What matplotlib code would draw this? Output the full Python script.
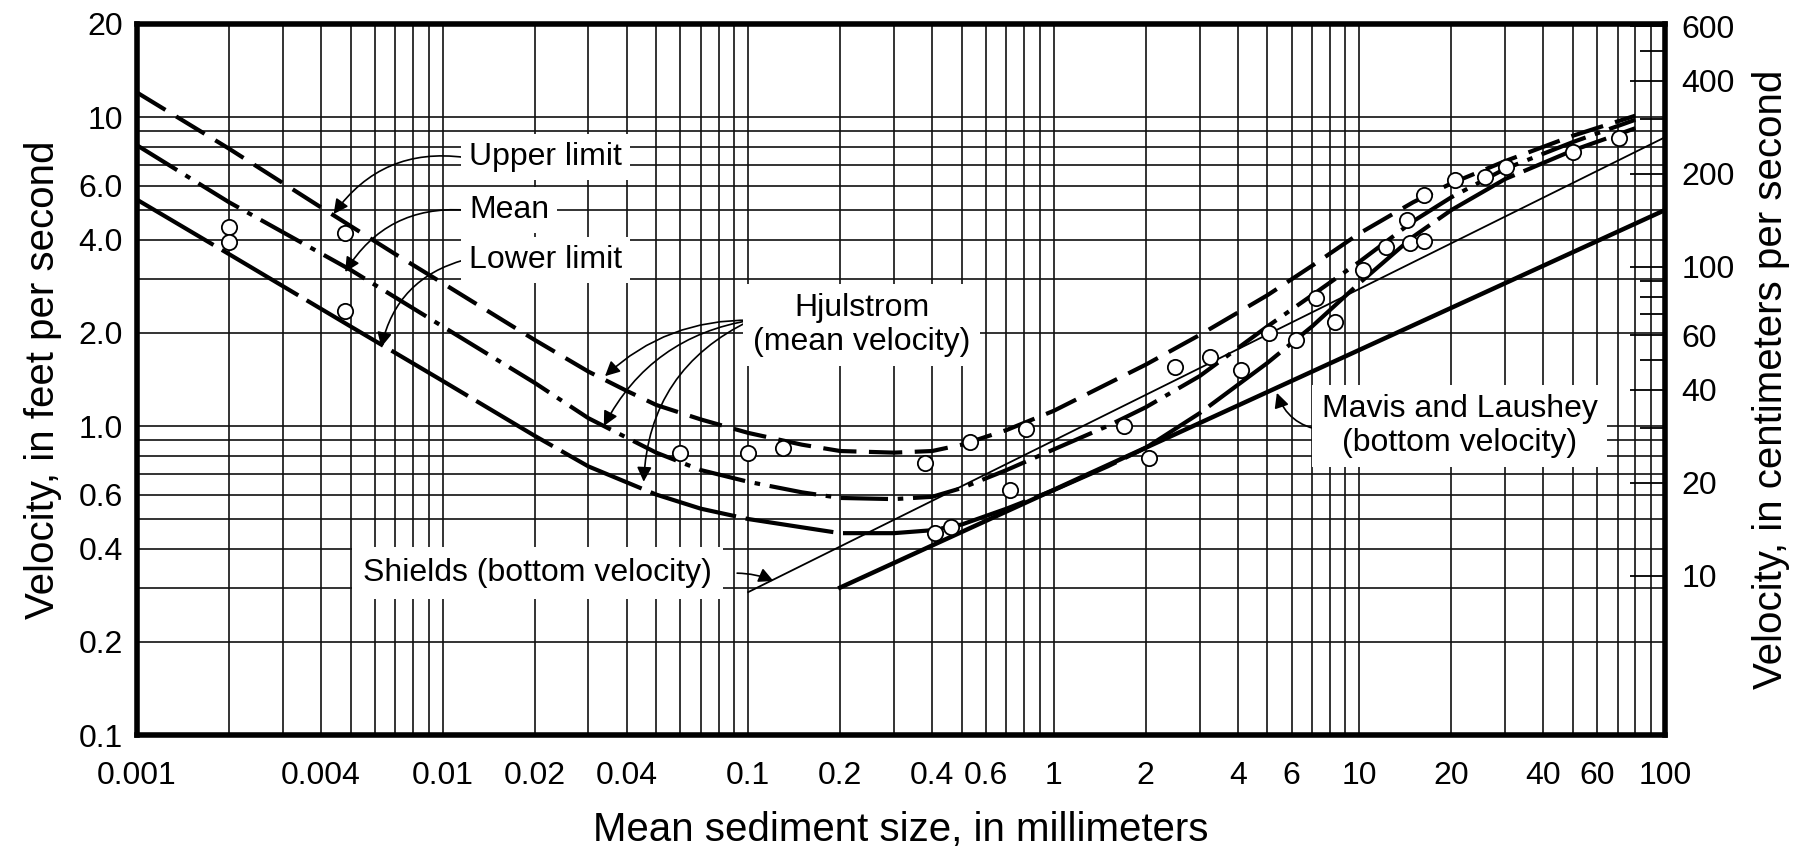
import matplotlib
matplotlib.use("Agg")
import matplotlib.pyplot as plt
from matplotlib import font_manager
from matplotlib.ticker import FixedLocator, FixedFormatter, NullFormatter

# ---- axis ticks -------------------------------------------------------------
size_ticks = [0.001, 0.004, 0.01, 0.02, 0.04, 0.1, 0.2, 0.4, 0.6, 1, 2, 4, 6,
              10, 20, 40, 60, 100]
size_tick_labels = ["0.001", "0.004", "0.01", "0.02", "0.04", "0.1", "0.2",
                    "0.4", "0.6", "1", "2", "4", "6", "10", "20", "40", "60",
                    "100"]
vel_ticks = [0.1, 0.2, 0.4, 0.6, 1, 2, 4, 6, 10, 20]
vel_tick_labels = ["0.1", "0.2", "0.4", "0.6", "1.0", "2.0", "4.0", "6.0",
                   "10", "20"]
cms_ticks = [10, 20, 40, 60, 100, 200, 400, 600]
cms_tick_labels = ["10", "20", "40", "60", "100", "200", "400", "600"]
cms_minor = [30, 50, 70, 80, 90, 300, 500]

# ---- Hjulstrom curves (mean velocity, ft/s) ---------------------------------
upper_size = [0.001, 0.002, 0.004, 0.007, 0.01, 0.02, 0.03, 0.04, 0.05, 0.07,
              0.1, 0.15, 0.2, 0.3, 0.4, 0.5, 0.7, 1.0, 1.5, 2.0, 3.0, 5.0,
              7.0, 10, 15, 20, 30, 50, 80]
upper_vel = [12.0, 7.9, 5.1, 3.6, 2.9, 1.9, 1.5, 1.3, 1.17, 1.05,
             0.95, 0.87, 0.83, 0.82, 0.83, 0.87, 0.97, 1.12, 1.37, 1.58, 1.97,
             2.65, 3.3, 4.2, 5.3, 6.1, 7.2, 8.7, 10.1]

mean_size = [0.001, 0.002, 0.005, 0.01, 0.02, 0.03, 0.05, 0.07, 0.1, 0.15,
             0.2, 0.3, 0.4, 0.5, 0.7, 1.0, 1.5, 2, 3, 5, 7, 10, 15, 20, 30,
             50, 80]
mean_vel = [8.1, 5.3, 3.2, 2.1, 1.38, 1.06, 0.82, 0.72, 0.66, 0.61,
            0.585, 0.58, 0.59, 0.63, 0.72, 0.84, 1.0, 1.15, 1.45, 2.1, 2.65,
            3.4, 4.6, 5.5, 6.8, 8.3, 9.8]

lower_size = [0.001, 0.002, 0.005, 0.01, 0.02, 0.03, 0.05, 0.07, 0.1, 0.15,
              0.2, 0.3, 0.4, 0.5, 0.7, 1.0, 1.5, 2, 3, 5, 7, 10, 15, 20, 30,
              50, 80]
lower_vel = [5.4, 3.6, 2.1, 1.4, 0.93, 0.74, 0.6, 0.54, 0.5, 0.47,
             0.45, 0.45, 0.46, 0.48, 0.54, 0.62, 0.74, 0.85, 1.1, 1.6, 2.1,
             2.9, 4.1, 5.0, 6.3, 7.8, 9.2]

# ---- bottom-velocity criteria -----------------------------------------------
shields_size = [0.1, 100]
shields_vel = [0.29, 8.6]
mavis_size = [0.2, 100]
mavis_vel = [0.30, 5.0]

# ---- observed points --------------------------------------------------------
obs_size = [0.002, 0.002, 0.0048, 0.0048, 0.06, 0.1, 0.13, 0.38, 0.41, 0.46,
            0.53, 0.72, 0.81, 1.7, 2.05, 2.5, 3.25, 4.1, 5.06, 6.2, 7.2, 8.3,
            10.3, 12.2, 14.3, 14.6, 16.3, 16.3, 20.6, 25.8, 30.2, 50, 70.6]
obs_vel = [4.4, 3.95, 4.2, 2.35, 0.82, 0.82, 0.85, 0.76, 0.45, 0.47,
           0.89, 0.62, 0.98, 1.0, 0.79, 1.55, 1.67, 1.52, 2.0, 1.9, 2.6, 2.17,
           3.2, 3.8, 4.64, 3.9, 3.97, 5.6, 6.25, 6.4, 6.9, 7.7, 8.55]

FT_TO_CM = 30.48


def pick_font(*names):
    available = {f.name for f in font_manager.fontManager.ttflist}
    for name in names:
        if name in available:
            return name
    return "DejaVu Sans"


title_font = pick_font("Liberation Sans", "Arial", "DejaVu Sans")
label_font = pick_font("Liberation Sans", "DejaVu Sans")
plt.rcParams["font.family"] = [title_font, "DejaVu Sans"]
plt.rcParams["lines.scale_dashes"] = False

fig = plt.figure(figsize=(17.95, 8.51), dpi=100)
ax = fig.add_axes([0.07632, 0.13631, 0.85125, 0.83549])
ax.set_xscale("log")
ax.set_yscale("log")
ax.set_xlim(0.001, 100)
ax.set_ylim(0.1, 20)

# grid on every 1..9 multiple
x_minor = [m * 10.0 ** e for e in range(-3, 2) for m in range(1, 10)]
x_minor = [v for v in x_minor if v not in size_ticks]
y_minor = [0.3, 0.5, 0.7, 0.8, 0.9, 3, 5, 7, 8, 9]

ax.xaxis.set_major_locator(FixedLocator(size_ticks))
ax.xaxis.set_major_formatter(FixedFormatter(size_tick_labels))
ax.xaxis.set_minor_locator(FixedLocator(x_minor))
ax.xaxis.set_minor_formatter(NullFormatter())
ax.yaxis.set_major_locator(FixedLocator(vel_ticks))
ax.yaxis.set_major_formatter(FixedFormatter(vel_tick_labels))
ax.yaxis.set_minor_locator(FixedLocator(y_minor))
ax.yaxis.set_minor_formatter(NullFormatter())

grid_kw = dict(color="#111111", linewidth=1.2)
ax.grid(True, which="both", axis="both", **grid_kw)
ax.set_axisbelow(True)

ax.tick_params(axis="both", which="both", length=0)
ax.tick_params(axis="x", which="major", pad=19, labelsize=23)
ax.tick_params(axis="y", which="major", pad=10, labelsize=23)
for lab in ax.get_xticklabels() + ax.get_yticklabels():
    lab.set_fontfamily(label_font)

for sp in ax.spines.values():
    sp.set_linewidth(4.0)
    sp.set_color("black")
    sp.set_zorder(5)

# Hjulstrom curves
ax.plot(upper_size, upper_vel, color="black", lw=3.0,
        dashes=(24, 9), zorder=3)
ax.plot(mean_size, mean_vel, color="black", lw=3.0,
        dashes=(34, 7, 4, 7), zorder=3)
ax.plot(lower_size, lower_vel, color="black", lw=3.0,
        dashes=(64, 7), zorder=3)

# bottom-velocity criteria
ax.plot(shields_size, shields_vel, color="black", lw=1.3, zorder=3)
ax.plot(mavis_size, mavis_vel, color="black", lw=3.2, zorder=3)

# observations
ax.plot(obs_size, obs_vel, linestyle="none", marker="o", markersize=11,
        markerfacecolor="white", markeredgecolor="black",
        markeredgewidth=1.3, zorder=4)

# annotations
box = dict(boxstyle="square,pad=0.25", facecolor="white", edgecolor="none")
arrow_kw = dict(arrowstyle="-|>", color="black", lw=1.2, mutation_scale=22,
                shrinkA=0, shrinkB=0)
txt_kw = dict(fontsize=23, family=label_font, zorder=6)

ax.text(0.0122, 7.4, "Upper limit", ha="left", va="center", bbox=box, **txt_kw)
ax.text(0.0122, 5.0, "Mean", ha="left", va="center", bbox=box, **txt_kw)
ax.text(0.0122, 3.45, "Lower limit", ha="left", va="center", bbox=box, **txt_kw)
ax.annotate("", xy=(0.0044, 4.85), xytext=(0.0118, 7.4),
            arrowprops=dict(connectionstyle="arc3,rad=0.3", **arrow_kw))
ax.annotate("", xy=(0.0048, 3.15), xytext=(0.0118, 5.0),
            arrowprops=dict(connectionstyle="arc3,rad=0.3", **arrow_kw))
ax.annotate("", xy=(0.0063, 1.8), xytext=(0.0118, 3.45),
            arrowprops=dict(connectionstyle="arc3,rad=0.3", **arrow_kw))

ax.text(0.235, 2.12, "Hjulstrom\n(mean velocity)", ha="center", va="center",
        linespacing=1.15, bbox=dict(boxstyle="square,pad=0.3",
                                    facecolor="white", edgecolor="none"),
        **txt_kw)
for tip, rad in (((0.034, 1.45), 0.2), ((0.0337, 1.0), 0.25),
                 ((0.0455, 0.66), 0.3)):
    ax.annotate("", xy=tip, xytext=(0.102, 2.2),
                arrowprops=dict(connectionstyle="arc3,rad=%s" % rad,
                                **arrow_kw))

ax.text(0.0204, 0.334, "Shields (bottom velocity)", ha="center",
        va="center", bbox=dict(boxstyle="square,pad=0.35",
                               facecolor="white", edgecolor="none"),
        **txt_kw)
ax.annotate("", xy=(0.121, 0.315), xytext=(0.092, 0.334),
            arrowprops=dict(connectionstyle="arc3,rad=-0.1", **arrow_kw))

ax.text(21.3, 1.0, "Mavis and Laushey\n(bottom velocity)", ha="center",
        va="center", linespacing=1.15,
        bbox=dict(boxstyle="square,pad=0.3", facecolor="white",
                  edgecolor="none"), **txt_kw)
ax.annotate("", xy=(5.37, 1.28), xytext=(7.5, 0.97),
            arrowprops=dict(connectionstyle="arc3,rad=-0.3", **arrow_kw))

# right-hand scale in cm/s
ax2 = ax.twinx()
ax2.set_yscale("log")
ax2.set_ylim(0.1 * FT_TO_CM, 20 * FT_TO_CM)
ax2.yaxis.set_major_locator(FixedLocator(cms_ticks))
ax2.yaxis.set_major_formatter(FixedFormatter(cms_tick_labels))
ax2.yaxis.set_minor_locator(FixedLocator(cms_minor))
ax2.yaxis.set_minor_formatter(NullFormatter())
ax2.tick_params(axis="y", which="major", direction="in", length=25,
                width=1.3, pad=12, labelsize=23)
ax2.tick_params(axis="y", which="minor", direction="in", length=18,
                width=1.3)
for lab in ax2.get_yticklabels():
    lab.set_fontfamily(label_font)
for sp in ax2.spines.values():
    sp.set_visible(False)

ax.set_xlabel("Mean sediment size, in millimeters", fontsize=29,
              family=title_font, labelpad=14)
ax.set_ylabel("Velocity, in feet per second", fontsize=29,
              family=title_font, labelpad=12)
ax2.set_ylabel("Velocity, in centimeters per second", fontsize=29,
               family=title_font, labelpad=12)

fig.savefig("out.png", dpi=100, facecolor="white")
